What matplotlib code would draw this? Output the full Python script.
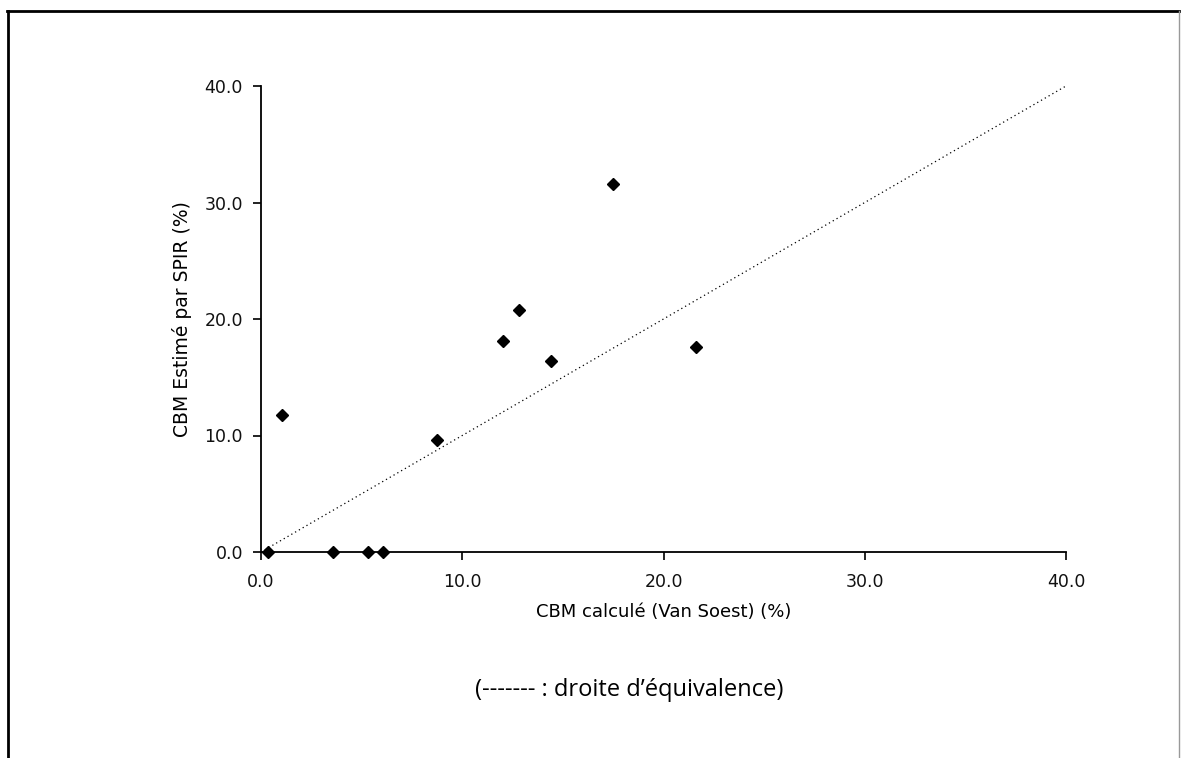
import matplotlib.pyplot as plt
from matplotlib.lines import Line2D
from matplotlib.ticker import FormatStrFormatter

# CBM calculated (Van Soest) vs CBM estimated by NIRS (SPIR), %
cbm_calcule = [0.36, 1.03, 3.57, 5.34, 6.08, 8.74, 12.0, 12.8, 14.4, 17.5, 21.6]
cbm_spir = [0.0, 11.8, 0.0, 0.0, 0.0, 9.6, 18.1, 20.8, 16.4, 31.6, 17.6]
equivalence = [0.0, 40.0]
ticks = [0, 10, 20, 30, 40]

plt.rcParams['font.family'] = ['DejaVu Sans']

W, H = 1181, 758
fig = plt.figure(figsize=(W / 100, H / 100), dpi=100)
ax = fig.add_axes([261 / W, 1 - 552 / H, (1066 - 261) / W, (552 - 86) / H])

ax.plot(equivalence, equivalence, color='black', linestyle=(0, (1, 2.5)),
        linewidth=0.9, zorder=2)
ax.plot(cbm_calcule, cbm_spir, linestyle='none', marker='D', markersize=6.2,
        color='black', clip_on=False, zorder=3)

ax.set_xlim(0, 40)
ax.set_ylim(0, 40)
ax.set_xticks(ticks)
ax.set_yticks(ticks)
ax.xaxis.set_major_formatter(FormatStrFormatter('%.1f'))
ax.yaxis.set_major_formatter(FormatStrFormatter('%.1f'))
ax.tick_params(direction='out', length=6, width=1.3, labelsize=12.5,
               colors='#111111')
ax.tick_params(axis='x', pad=9)
ax.tick_params(axis='y', pad=7)
for side in ['top', 'right']:
    ax.spines[side].set_visible(False)
for side in ['left', 'bottom']:
    ax.spines[side].set_linewidth(1.3)

ax.set_xlabel('CBM calculé (Van Soest) (%)', fontsize=13, labelpad=9)
ax.set_ylabel('CBM Estimé par SPIR (%)', fontsize=13.5, labelpad=9)

fig.text(629 / W, 1 - 690 / H, '(------- : droite d\u2019équivalence)',
         ha='center', va='center', fontsize=17,
         family=['Open Sans', 'DejaVu Sans'])

# page frame around the chart
fig.add_artist(Line2D([8 / W, 8 / W], [0, 1 - 11 / H], color='black',
                      linewidth=2, transform=fig.transFigure))
fig.add_artist(Line2D([7 / W, 1179 / W], [1 - 11 / H, 1 - 11 / H],
                      color='black', linewidth=2, transform=fig.transFigure))
fig.add_artist(Line2D([1179 / W, 1179 / W], [0, 1 - 11 / H], color='#999999',
                      linewidth=1, transform=fig.transFigure))

fig.savefig('out.png', dpi=100)
